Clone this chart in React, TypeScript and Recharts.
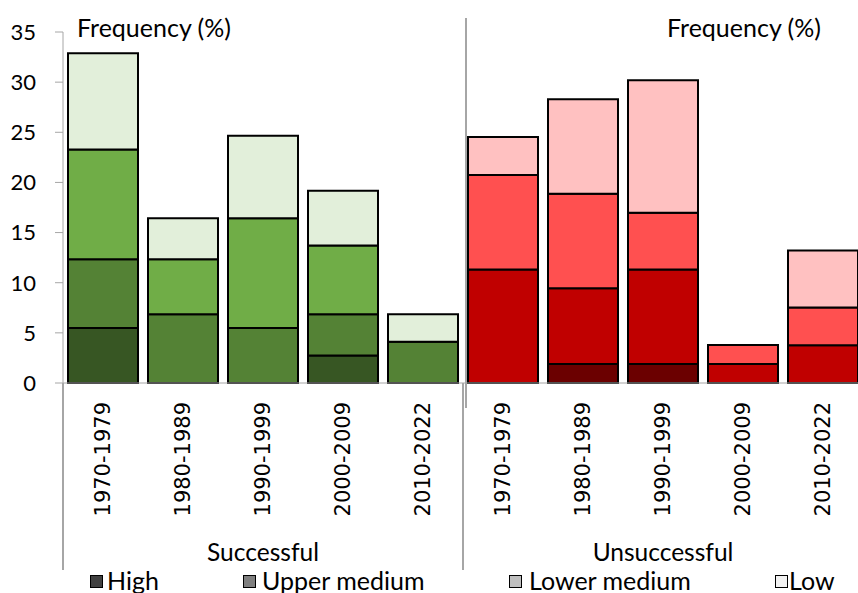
import { BarChart, Bar, XAxis, YAxis, Cell, Legend } from 'recharts';

// decades, repeated for each outcome group
const periods = ['1970-1979', '1980-1989', '1990-1999', '2000-2009', '2010-2022'];
const outcomes = ['Successful', 'Unsuccessful'];

// frequency (%) per segment, 5 successful then 5 unsuccessful
const high = [5.48, 0, 0, 2.74, 0, 0, 1.89, 1.89, 0, 0];
const upperMedium = [6.85, 6.85, 5.48, 4.11, 4.11, 11.32, 7.55, 9.43, 1.89, 3.77];
const lowerMedium = [10.96, 5.48, 10.96, 6.85, 0, 9.43, 9.43, 5.66, 1.89, 3.77];
const low = [9.59, 4.11, 8.22, 5.48, 2.74, 3.77, 9.43, 13.21, 0, 5.66];

const yTicks = [0, 5, 10, 15, 20, 25, 30, 35];

const levelKeys = ['high', 'upperMedium', 'lowerMedium', 'low'];
const levelNames = ['High', 'Upper medium', 'Lower medium', 'Low'];
const greens = ['#375623', '#548235', '#70ad47', '#e2efda'];
const reds = ['#6b0000', '#c00000', '#ff5050', '#ffc1c1'];
const legendFills = ['#404040', '#7f7f7f', '#bfbfbf', '#f2f2f2'];
const legendBoxLeft = [90, 243, 509, 775];
const legendTextLeft = [107, 262, 529, 789];

const data = high.map((h, i) => ({
  period: periods[i % periods.length],
  outcome: outcomes[Math.floor(i / periods.length)],
  high: h,
  upperMedium: upperMedium[i],
  lowerMedium: lowerMedium[i],
  low: low[i],
}));

const labelFont = 'Lato, "Noto Sans", sans-serif';
const gridGray = '#a6a6a6';

function PeriodTick({ x, y, payload }: any) {
  const ty = y + 19;
  return (
    <text
      x={x}
      y={ty}
      transform={`rotate(-90 ${x} ${ty})`}
      textAnchor="end"
      dominantBaseline="central"
      fontFamily='"DejaVu Sans", sans-serif'
      fontSize={21}
      fill="#000"
    >
      {payload.value}
    </text>
  );
}

function OutcomeTick({ x, y, payload, index }: any) {
  const half = payload.offset || 200;
  return (
    <g>
      {index === 0 && <line x1={x - half} x2={x - half} y1={y - 140} y2={y + 47} stroke={gridGray} strokeWidth={2} />}
      <line x1={x + half} x2={x + half} y1={y - 140} y2={y + 47} stroke={gridGray} strokeWidth={2} />
      {index === 0 && (
        <line x1={x + half + 3} x2={x + half + 3} y1={y - 505} y2={y - 115} stroke={gridGray} strokeWidth={2} />
      )}
      <text x={x} y={y + 28} textAnchor="middle" dominantBaseline="central" fontFamily={labelFont} fontSize={24.5} fill="#000">
        {payload.value}
      </text>
    </g>
  );
}

function LegendBox() {
  return (
    <div style={{ position: 'relative', height: 25, fontFamily: labelFont, fontSize: 25, color: '#000' }}>
      {levelNames.map((name, i) => (
        <div key={name}>
          <span
            style={{
              position: 'absolute',
              left: legendBoxLeft[i],
              top: 7,
              width: 11,
              height: 11,
              background: legendFills[i],
              border: '1px solid #000',
            }}
          />
          <span style={{ position: 'absolute', left: legendTextLeft[i], top: -3, lineHeight: '30px', whiteSpace: 'nowrap' }}>{name}</span>
        </div>
      ))}
    </div>
  );
}

export default function App() {
  return (
    <div style={{ position: 'absolute', left: 0, top: 0, width: 858, height: 593, overflow: 'hidden', background: '#fff' }}>
      <BarChart width={863} height={593} data={data} margin={{ top: 32, right: 0, bottom: 0, left: 0 }} barCategoryGap={5}>
        <YAxis
          width={63}
          domain={[0, 35]}
          ticks={yTicks}
          interval={0}
          tickSize={8}
          tickMargin={19}
          stroke={gridGray}
          tick={{ fill: '#000', fontSize: 22, fontFamily: labelFont }}
        />
        <XAxis
          dataKey="period"
          height={140}
          interval={0}
          tickLine={false}
          tickSize={0}
          tickMargin={0}
          stroke={gridGray}
          tick={<PeriodTick />}
        />
        <XAxis
          xAxisId="outcome"
          dataKey="outcome"
          allowDuplicatedCategory={false}
          height={45}
          axisLine={false}
          tickLine={false}
          tickSize={0}
          tickMargin={0}
          interval={0}
          tick={<OutcomeTick />}
        />
        <Legend verticalAlign="bottom" height={25} content={<LegendBox />} />
        {levelKeys.map((key, k) => (
          <Bar key={key} dataKey={key} name={levelNames[k]} stackId="s" stroke="#000" strokeWidth={2} isAnimationActive={false}>
            {data.map((_, i) => (
              <Cell key={i} fill={i < periods.length ? greens[k] : reds[k]} />
            ))}
          </Bar>
        ))}
      </BarChart>
      <div style={{ position: 'absolute', left: 77, top: 11, fontFamily: labelFont, fontSize: 25, lineHeight: '32px' }}>Frequency (%)</div>
      <div style={{ position: 'absolute', left: 667, top: 11, fontFamily: labelFont, fontSize: 25, lineHeight: '32px' }}>Frequency (%)</div>
    </div>
  );
}
